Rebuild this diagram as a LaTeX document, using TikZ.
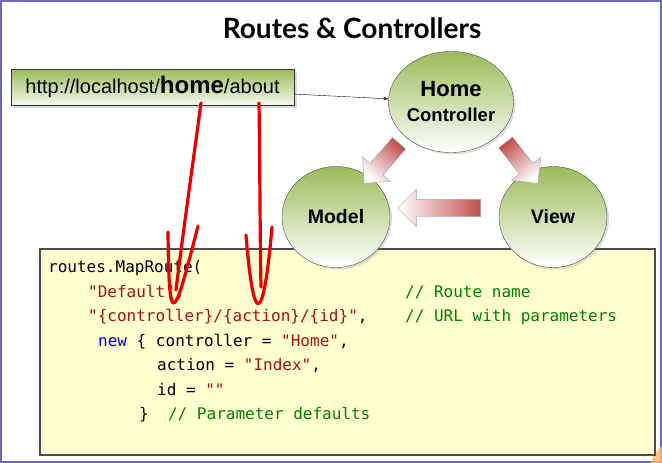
\documentclass[tikz,border=0pt]{standalone}
\usepackage{fontspec}
\setmainfont{Liberation Sans}
\setmonofont{DejaVu Sans Mono}
\newfontfamily\titlefont{Lato}
\usetikzlibrary{shapes.geometric,shapes.arrows,shadows,arrows.meta}
\definecolor{slideframe}{RGB}{112,104,182}
\definecolor{mvcgreen}{RGB}{155,187,89}
\definecolor{mvcred}{RGB}{192,80,77}
\definecolor{codebg}{RGB}{255,254,206}
\definecolor{codestr}{RGB}{163,21,21}
\definecolor{codecmt}{RGB}{0,128,0}
\definecolor{codekw}{RGB}{0,0,255}
\definecolor{penred}{RGB}{232,0,0}
\newcommand{\cstr}[1]{\textcolor{codestr}{#1}}
\newcommand{\ccmt}[1]{\textcolor{codecmt}{#1}}
\newcommand{\ckw}[1]{\textcolor{codekw}{#1}}

\begin{document}
\begin{tikzpicture}[x=1pt, y=-1pt,
	mvc/.style={ellipse, draw=black!70, minimum width=108pt, minimum height=101pt, inner sep=0pt,
		top color=mvcgreen, bottom color=white, align=center, font=\bfseries\fontsize{19.5}{25}\selectfont,
		drop shadow={opacity=0.25, shadow xshift=2pt, shadow yshift=-2pt}},
	mvcarrow/.style={single arrow, draw=black!35, inner xsep=0pt, inner ysep=8.5pt, minimum width=37pt, minimum height=#1,
		single arrow head extend=10pt, single arrow tip angle=90, top color=white, bottom color=mvcred},
	codeline/.style={anchor=base west, inner sep=0pt, font=\ttfamily\fontsize{16}{18}\selectfont},
	redpen/.style={draw=penred, line width=3.2pt, line cap=round, line join=round}]
\useasboundingbox (0,0) rectangle (662,463);
\draw[slideframe, line width=2pt] (1,1) rectangle (661,461.5);
\begin{scope}
	\clip (0,0) rectangle (662,463);
	\fill[orange!55, opacity=0.8] (680,470) circle (30);
\end{scope}

\node[anchor=base, font=\titlefont\bfseries\fontsize{28}{30}\selectfont] (title) at (352,38) {Routes \& Controllers};

\node[draw=black!80, minimum width=283pt, minimum height=36pt, inner sep=0pt,
	top color=mvcgreen, bottom color=mvcgreen!10,
	drop shadow={opacity=0.3, shadow xshift=3pt, shadow yshift=-3pt}] (url) at (152.5,87)
	{\fontsize{20}{24}\selectfont http://localhost/{\bfseries\fontsize{24}{28}\selectfont home}/about};

% code block
\node[draw=black!70, line width=1.2pt, fill=codebg, minimum width=615pt, minimum height=206pt] (code) at (347.5,352) {};
\node[codeline] (route) at (48,272) {routes.MapRoute(};
\node[codeline] (name) at (88,297) {\cstr{"Default"},};
\node[codeline] (url pattern) at (88,321) {\cstr{"\{controller\}/\{action\}/\{id\}"},};
\node[codeline] (defaults) at (98,346) {\ckw{new} \{ controller = \cstr{"Home"},};
\node[codeline] (def action) at (157,370) {action = \cstr{"Index"},};
\node[codeline] (def id) at (157,395) {id = \cstr{""}};
\node[codeline] (close) at (139,419) {\}\ \ \ccmt{// Parameter defaults}};
\node[codeline] (name cmt) at (405,297) {\ccmt{// Route name}};
\node[codeline] (url cmt) at (405,321) {\ccmt{// URL with parameters}};

\node[mvc, font=\bfseries\fontsize{22}{25}\selectfont] (home) at (451,102) {Home\\\fontsize{18.5}{22}\selectfont Controller};
\node[mvc] (model) at (336,217) {Model};
\node[mvc] (view) at (553,217) {View};

\draw[-{Stealth[length=5pt, open]}, thin] (url) -- (home);

\node[mvcarrow=53pt, rotate=-131, shading angle=139] (to model) at (384.5,160) {};
\node[mvcarrow=52pt, rotate=-52, shading angle=-142] (to view) at (519,159.5) {};
\node[mvcarrow=83pt, rotate=180, shading angle=90] (view to model) at (443.5,208) {};

% pen marks
\coordinate (home mark) at (201,103);
\coordinate (about mark) at (259,103);
\draw[redpen] (home mark) .. controls (192,170) and (182,240) .. (176,290);
\draw[redpen] (168,232) .. controls (169,335) and (174,320) .. (198,226);
\draw[redpen] (about mark) .. controls (260,170) and (260,240) .. (261,287);
\draw[redpen] (246,235) .. controls (254,335) and (264,320) .. (272,227);
\end{tikzpicture}
\end{document}
